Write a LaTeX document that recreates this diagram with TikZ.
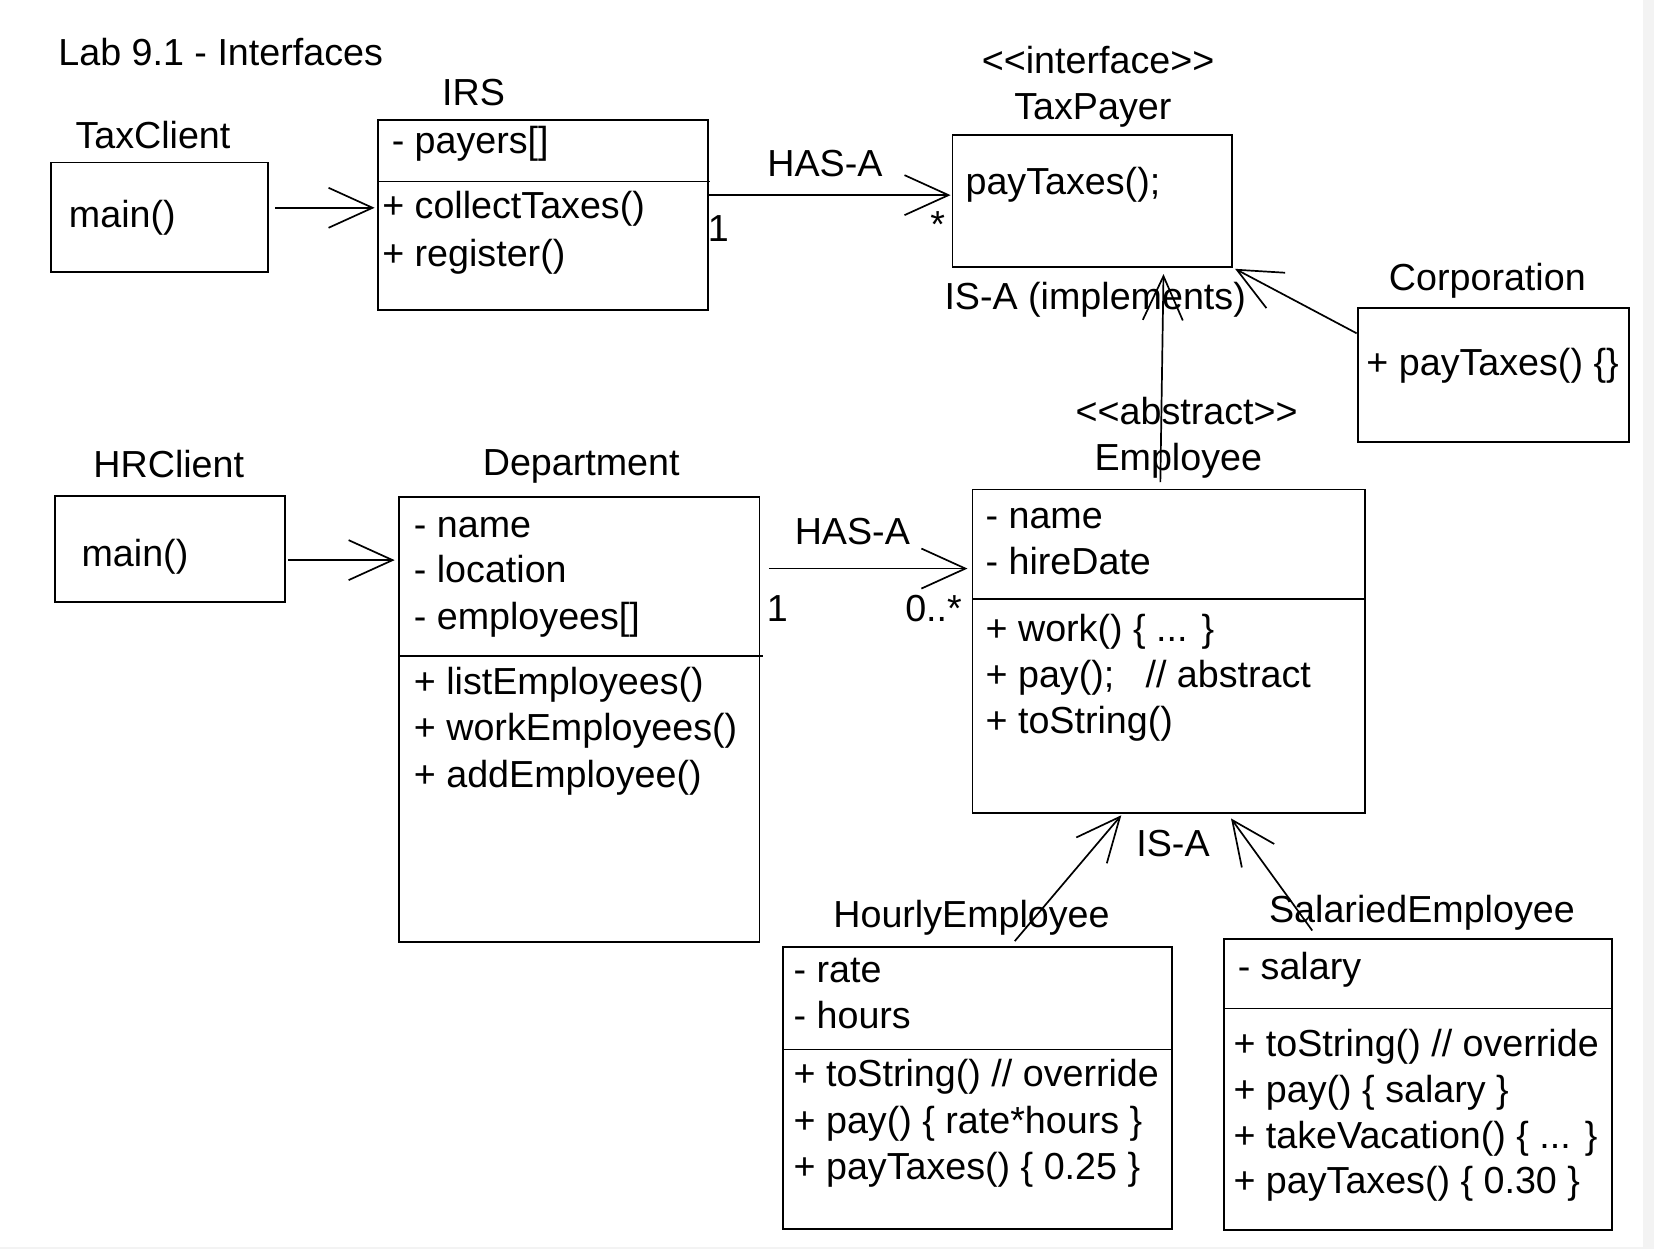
\documentclass[tikz,border=0pt]{standalone}
\usepackage{fontspec}
\setmainfont{Liberation Sans}
\usetikzlibrary{arrows.meta,fit}
\definecolor{edgegrey}{HTML}{F3F3F3}
\newcommand{\fsz}{\fontsize{18.83pt}{22pt}\selectfont}
\begin{document}
\begin{tikzpicture}[x=0.5274pt,y=-0.5274pt,
  box/.style={draw, line width=0.9pt, inner sep=0pt},
  conn/.style={line width=0.85pt, -{Straight Barb[length=22pt,width=20pt,line width=0.85pt]}},
  lbl/.style={inner sep=0pt, font=\fsz, text height=13.75pt, text depth=3.95pt, yshift=-1.6pt},
  lt/.style={lbl, anchor=west},
  divider/.style={line width=0.9pt}]
% canvas
\useasboundingbox (0,0) rectangle (1568,1184);
\fill[edgegrey] (1558,0) rectangle (1568,1184);
\fill[edgegrey] (0,1182) rectangle (1568,1184);

% title
\node[lt] (title) at (55,50) {Lab 9.1 - Interfaces};

% TaxClient
\node[box, fit={(48,154) (254,258)}] (taxclient) {};
\node[lbl] (taxclientname) at (145,128) {TaxClient};
\node[lt] (taxclientm) at (65,203) {main()};

% IRS
\node[box, fit={(358,114) (671,294)}] (irs) {};
\draw[divider] (358,172) -- (673,172);
\node[lbl] (irsname) at (449,88) {IRS};
\node[lt] (irsa) at (371,133) {- payers[]};
\node[lt] (irsm1) at (362,195) {+ collectTaxes()};
\node[lt] (irsm2) at (362,240) {+ register()};

% TaxPayer
\node[box, fit={(903,128) (1168,253)}] (taxpayer) {};
\node[lbl] (taxpayerst) at (1041,57) {<{}<interface>{}>};
\node[lbl] (taxpayername) at (1036,101) {TaxPayer};
\node[lt] (taxpayerm) at (915,172) {payTaxes();};

% Corporation
\node[box, fit={(1287,292) (1544,419)}] (corp) {};
\node[lbl] (corpname) at (1410,263) {Corporation};
\node[lt] (corpm) at (1295,344) {+ payTaxes() \{\}};

% HRClient
\node[box, fit={(52,470) (270,571)}] (hrclient) {};
\node[lbl] (hrclientname) at (160,440) {HRClient};
\node[lt] (hrclientm) at (77,525) {main()};

% Department
\node[box, fit={(378,471) (720,893)}] (dept) {};
\draw[divider] (378,622) -- (723,622);
\node[lbl] (deptname) at (551,438) {Department};
\node[lt] (depta1) at (392,497) {- name};
\node[lt] (depta2) at (392,540) {- location};
\node[lt] (depta3) at (392,584) {- employees[]};
\node[lt] (deptm1) at (392,646) {+ listEmployees()};
\node[lt] (deptm2) at (392,690) {+ workEmployees()};
\node[lt] (deptm3) at (392,734) {+ addEmployee()};

% Employee
\node[box, fit={(922,464) (1294,771)}] (emp) {};
\draw[divider] (922,568) -- (1294,568);
\node[lbl] (empst) at (1125,390) {<{}<abstract>{}>};
\node[lbl] (empname) at (1117,434) {Employee};
\node[lt] (empa1) at (934,489) {- name};
\node[lt] (empa2) at (934,532) {- hireDate};
\node[lt] (empm1) at (934,596) {+ work() \{ ... \}};
\node[lt] (empm2) at (934,639) {+ pay();\hspace{0.83em}// abstract};
\node[lt] (empm3) at (934,683) {+ toString()};

% HourlyEmployee
\node[box, fit={(742,898) (1111,1165)}] (hourly) {};
\draw[divider] (742,995) -- (1111,995);
\node[lbl] (hourlyname) at (921,867) {HourlyEmployee};
\node[lt] (hourlya1) at (752,919) {- rate};
\node[lt] (hourlya2) at (752,963) {- hours};
\node[lt] (hourlym1) at (752,1018) {+ toString() // override};
\node[lt] (hourlym2) at (752,1062) {+ pay() \{ rate*hours \}};
\node[lt] (hourlym3) at (752,1106) {+ payTaxes() \{ 0.25 \}};

% SalariedEmployee
\node[box, fit={(1160,890) (1528,1166)}] (salaried) {};
\draw[divider] (1160,956) -- (1528,956);
\node[lbl] (salariedname) at (1348,862) {SalariedEmployee};
\node[lt] (saleda1) at (1173,916) {- salary};
\node[lt] (saledm1) at (1169,989) {+ toString() // override};
\node[lt] (saledm2) at (1169,1033) {+ pay() \{ salary \}};
\node[lt] (saledm3) at (1169,1076) {+ takeVacation() \{ ... \}};
\node[lt] (saledm4) at (1169,1119) {+ payTaxes() \{ 0.30 \}};

% connector labels
\node[lbl] (hasa1) at (782,155) {HAS-A};
\node[lbl] (mult1a) at (681,217) {1};
\node[lbl] (mult1b) at (889,213) {*};
\node[lt] (isaimpl) at (895,281) {IS-A (implements)};
\node[lbl] (hasa2) at (808,504) {HAS-A};
\node[lbl] (mult2a) at (737,577) {1};
\node[lbl] (mult2b) at (885,577) {0..*};
\node[lbl] (isa) at (1112,800) {IS-A};

% connectors
\draw[conn] ([shift={(6,-9)}]taxclient.east) -- ([shift={(-2,-7)}]irs.west);
\draw[conn] ([shift={(0,-19)}]irs.east) -- ([shift={(-1,-5.5)}]taxpayer.west);
\draw[conn] ([shift={(-8,-6)}]emp.north) -- ([shift={(67.5,6)}]taxpayer.south);
\draw[conn] ([shift={(0,-39.5)}]corp.west) -- ([shift={(2,1)}]taxpayer.south east);
\draw[conn] ([shift={(2,10.5)}]hrclient.east) -- ([shift={(-3,-151)}]dept.west);
\draw[conn] ([shift={(8,-143)}]dept.east) -- ([shift={(-4,-78.5)}]emp.west);
\draw[conn] ([shift={(35.5,-5)}]hourly.north) -- ([shift={(-45,1)}]emp.south);
\draw[conn] ([shift={(-100,-7)}]salaried.north) -- ([shift={(59,4)}]emp.south);
\end{tikzpicture}
\end{document}
